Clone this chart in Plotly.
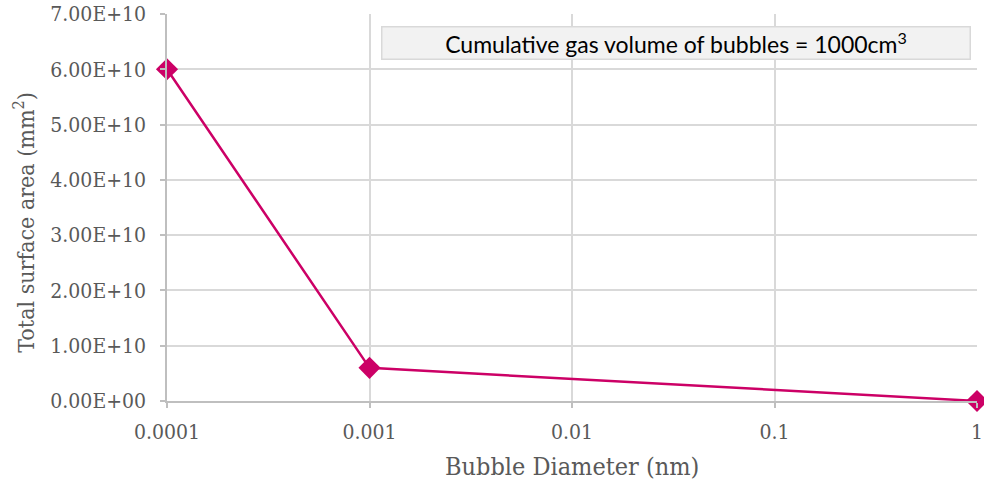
import plotly.graph_objects as go

# Bubble diameter (nm) and total surface area (mm^2)
diameter = [0.0001, 0.001, 1]
surface_area = [6.0e10, 6.0e9, 6.0e6]

y_tick_vals = [0, 1e10, 2e10, 3e10, 4e10, 5e10, 6e10, 7e10]
y_tick_text = ["0.00E+00", "1.00E+10", "2.00E+10", "3.00E+10",
               "4.00E+10", "5.00E+10", "6.00E+10", "7.00E+10"]
x_tick_vals = [0.0001, 0.001, 0.01, 0.1, 1]
x_tick_text = ["0.0001", "0.001", "0.01", "0.1", "1"]

serif = "DejaVu Serif Condensed, DejaVu Serif, serif"
grey_text = "#595959"
line_color = "#CC0066"

fig = go.Figure()
fig.add_trace(go.Scatter(
    x=diameter, y=surface_area, mode="lines+markers",
    line=dict(color=line_color, width=2.5),
    marker=dict(symbol="diamond", size=17, color=line_color),
    cliponaxis=False, showlegend=False,
))

fig.update_xaxes(
    type="log", range=[-4, 0], automargin=False,
    tickvals=x_tick_vals, ticktext=x_tick_text,
    showgrid=True, gridcolor="#D9D9D9", gridwidth=1.5,
    showline=True, linecolor="#BFBFBF", linewidth=1.5,
    ticks="outside", ticklen=5, tickcolor="#BFBFBF", tickwidth=1.5,
    ticklabelstandoff=6,
    tickfont=dict(family=serif, size=21, color=grey_text),
    zeroline=False,
)
fig.update_yaxes(
    range=[0, 7e10], automargin=False,
    tickvals=y_tick_vals, ticktext=y_tick_text,
    showgrid=True, gridcolor="#D9D9D9", gridwidth=1.5,
    showline=True, linecolor="#BFBFBF", linewidth=1.5,
    ticks="outside", ticklen=5, tickcolor="#BFBFBF", tickwidth=1.5,
    ticklabelstandoff=10,
    tickfont=dict(family=serif, size=21, color=grey_text),
    zeroline=False,
)

# Axis titles placed in paper coordinates
fig.add_annotation(
    xref="paper", yref="paper", x=0.5, y=-0.168,
    text="Bubble Diameter (nm)", showarrow=False,
    xanchor="center", yanchor="middle",
    font=dict(family=serif, size=25, color=grey_text),
)
fig.add_annotation(
    xref="paper", yref="paper", x=-0.176, y=0.462, textangle=-90,
    text="Total surface area (mm<sup>2</sup>)", showarrow=False,
    xanchor="center", yanchor="middle",
    font=dict(family=serif, size=23, color=grey_text),
)

fig.add_annotation(
    xref="paper", yref="paper", x=0.629, y=0.926,
    text="Cumulative gas volume of bubbles = 1000cm<sup>3</sup>",
    showarrow=False, xanchor="center", yanchor="middle",
    font=dict(family="Lato, Open Sans, sans-serif", size=23, color="#000000"),
    bgcolor="#F2F2F2", bordercolor="#D9D9D9", borderwidth=1.5,
    width=585, height=29,
)

fig.update_layout(
    width=984, height=486,
    margin=dict(l=167, r=7, t=14, b=85),
    paper_bgcolor="white", plot_bgcolor="white",
)

fig.write_html("out.html")
